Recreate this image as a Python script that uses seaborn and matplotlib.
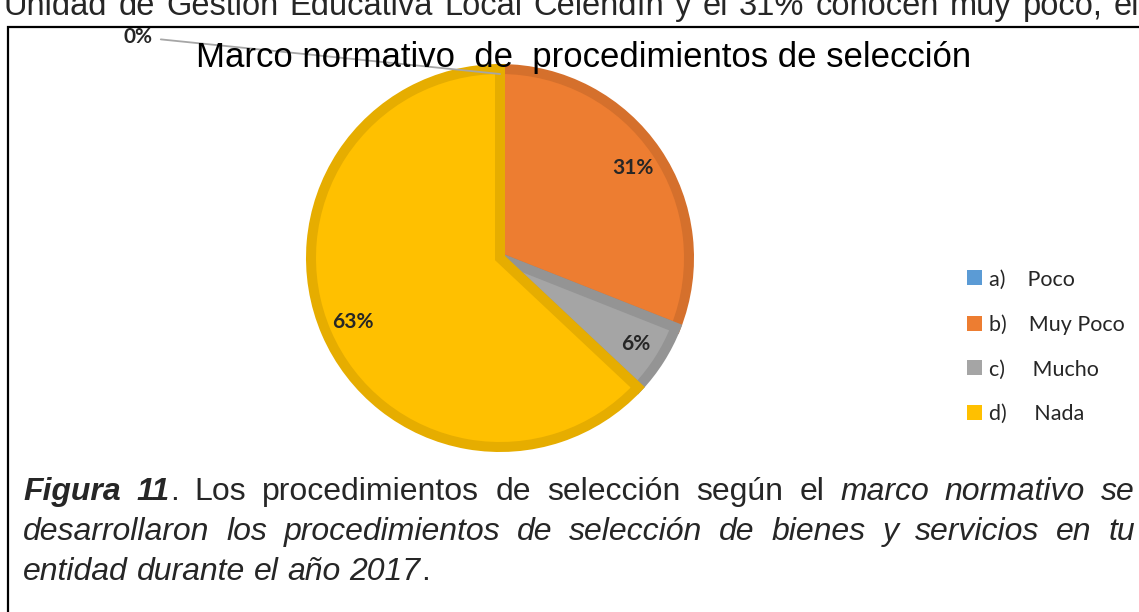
import matplotlib
matplotlib.use("Agg")
import matplotlib.pyplot as plt
from matplotlib.patches import Patch, Rectangle
import seaborn as sns

sns.set_theme(style="white")
plt.rcParams["font.family"] = ["Liberation Sans", "DejaVu Sans"]

categories = ["a)    Poco", "b)    Muy Poco", "c)     Mucho", "d)     Nada"]
percent = [0, 31, 6, 63]
fill_colors = ["#5B9BD5", "#ED7D31", "#A5A5A5", "#FFC000"]
edge_colors = ["#4A87BF", "#D5702C", "#949494", "#E6AD00"]
title = "Marco normativo  de  procedimientos de selección"
top_line = "Unidad de Gestión Educativa Local Celendín y el 31% conocen muy poco, el"

W, H = 1139, 612
fig = plt.figure(figsize=(W / 100, H / 100), dpi=100)
fig.patch.set_facecolor("white")


def fx(px):
    return px / W


def fy(py):
    return 1 - py / H


# frame round the figure
fig.patches.append(Rectangle((fx(8), -0.1), 1.2, fy(27) + 0.1, transform=fig.transFigure,
                             fill=False, edgecolor="black", linewidth=1.6))

# pie
cx, cy, R = 500, 258, 194
ax = fig.add_axes([fx(cx - R), fy(cy + R), 2 * R / W, 2 * R / H])
lw_px = 10
lab_font = dict(fontsize=15, fontweight="bold", family=["Lato", "DejaVu Sans"])
wedges, texts, autotexts = ax.pie(
    percent, colors=sns.color_palette(fill_colors), startangle=90, counterclock=False,
    radius=1 - (lw_px / 2) / R, autopct="%1.0f%%", pctdistance=0.85,
    wedgeprops=dict(linewidth=lw_px * 0.72, joinstyle="miter"),
    textprops=lab_font)
for w, ec in zip(wedges, edge_colors):
    w.set_edgecolor(ec)
ax.set_xlim(-1, 1)
ax.set_ylim(-1, 1)

# the 0% slice gets an outside label with a leader line
zero = percent.index(0)
autotexts[zero].set_visible(False)
ax.annotate(autotexts[zero].get_text(), xy=(0, 1 - lw_px / R), xycoords="data",
            xytext=(fx(152), fy(37)), textcoords="figure fraction",
            ha="right", va="center", **lab_font,
            arrowprops=dict(arrowstyle="-", color="#A6A6A6", lw=1.3,
                            shrinkA=4, shrinkB=0),
            annotation_clip=False)

fig.text(fx(584), fy(58), title, ha="center", va="center", fontsize=25, color="#000000")

# legend
handles = [Patch(facecolor=c, edgecolor="none") for c in fill_colors]
fig.legend(handles, categories, loc="upper left", bbox_to_anchor=(fx(948), fy(250)),
           frameon=False, handlelength=0.7, handleheight=0.7,
           handletextpad=0.3, labelspacing=1.15, prop=dict(family="Lato", size=15.5))

renderer = fig.canvas.get_renderer()


def words(text, style="normal", weight="normal"):
    return [[(w, style, weight)] for w in text.split()]


def place_line(line, x0, x1, base, size, justify=True):
    objs = []
    widths = []
    for word in line:
        parts = []
        wsum = 0
        for txt, style, weight in word:
            t = fig.text(0, fy(base), txt, fontsize=size, style=style, weight=weight,
                         va="baseline", ha="left")
            wpx = t.get_window_extent(renderer).width
            parts.append((t, wsum))
            wsum += wpx
        objs.append(parts)
        widths.append(wsum)
    probe = fig.text(0, 0, "a a", fontsize=size)
    probe2 = fig.text(0, 0, "aa", fontsize=size)
    space = probe.get_window_extent(renderer).width - probe2.get_window_extent(renderer).width
    probe.remove()
    probe2.remove()
    if justify and len(line) > 1:
        gap = (x1 - x0 - sum(widths)) / (len(line) - 1)
    else:
        gap = space
    x = x0
    for parts, wpx in zip(objs, widths):
        for t, off in parts:
            t.set_x(fx(x + off))
        x += wpx + gap


cap = 23
place_line(words(top_line), 4, 1139, 15, 23.5)
line1 = [[("Figura", "italic", "bold")], [("11", "italic", "bold"), (".", "normal", "normal")]] \
    + words("Los procedimientos de selección según el") + words("marco normativo se", "italic")
line2 = words("desarrollaron los procedimientos de selección de bienes y servicios en tu", "italic")
line3 = words("entidad durante el año", "italic") + [[("2017", "italic", "normal"), (".", "normal", "normal")]]
place_line(line1, 23, 1135, 500, cap)
place_line(line2, 23, 1135, 540, cap)
place_line(line3, 23, 1135, 580, cap, justify=False)

fig.savefig("out.png", dpi=100)
